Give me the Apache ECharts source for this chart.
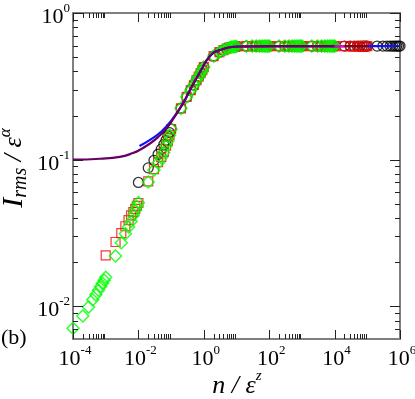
<!DOCTYPE html>
<html>
<head>
<meta charset="utf-8">
<script src="https://cdn.jsdelivr.net/npm/echarts@6/dist/echarts.min.js"></script>
<style>
  html, body { margin: 0; padding: 0; background: #fff; }
  #chart { width: 415px; height: 399px; }
</style>
</head>
<body>
<div id="chart"></div>
<script>
// n of each run: 1..9 x 10^k, then 1e8; x = n / eps^z = n * scale
const nSteps = [
  1, 2, 3, 4, 5, 6, 7, 8, 9,
  10, 20, 30, 40, 50, 60, 70, 80, 90,
  100, 200, 300, 400, 500, 600, 700, 800, 900,
  1e3, 2e3, 3e3, 4e3, 5e3, 6e3, 7e3, 8e3, 9e3,
  1e4, 2e4, 3e4, 4e4, 5e4, 6e4, 7e4, 8e4, 9e4,
  1e5, 2e5, 3e5, 4e5, 5e5, 6e5, 7e5, 8e5, 9e5,
  1e6, 2e6, 3e6, 4e6, 5e6, 6e6, 7e6, 8e6, 9e6,
  1e7, 2e7, 3e7, 4e7, 5e7, 6e7, 7e7, 8e7, 9e7,
  1e8
];
const blackScale = 1e-2;
const redScale = 1e-3;
const greenScale = 1e-4;

const blackY = [
  0.070, 0.088, 0.099, 0.109, 0.118, 0.127, 0.136, 0.145, 0.153,
  0.162, 0.224, 0.268, 0.298, 0.323, 0.349, 0.368, 0.389, 0.408,
  0.428, 0.508, 0.541, 0.559, 0.573, 0.580, 0.586, 0.588, 0.590,
  0.592, 0.594, 0.595, 0.595, 0.595, 0.595, 0.595, 0.595, 0.595,
  0.595, 0.595, 0.595, 0.595, 0.595, 0.595, 0.595, 0.595, 0.595,
  0.595, 0.595, 0.595, 0.595, 0.595, 0.595, 0.595, 0.595, 0.595,
  0.595, 0.595, 0.595, 0.595, 0.595, 0.595, 0.595, 0.595, 0.595,
  0.595, 0.595, 0.595, 0.595, 0.595, 0.595, 0.595, 0.595, 0.595,
  0.595
];
const redY = [
  0.0223, 0.0275, 0.0316, 0.0352, 0.0387, 0.0418, 0.0440, 0.0462, 0.0485,
  0.0507, 0.0712, 0.0862, 0.0962, 0.1042, 0.1132, 0.1245, 0.1345, 0.1475,
  0.162, 0.224, 0.268, 0.298, 0.323, 0.349, 0.368, 0.389, 0.408,
  0.428, 0.508, 0.541, 0.559, 0.573, 0.580, 0.586, 0.588, 0.590,
  0.592, 0.594, 0.595, 0.595, 0.595, 0.595, 0.595, 0.595, 0.595,
  0.595, 0.595, 0.595, 0.595, 0.595, 0.595, 0.595, 0.595, 0.595,
  0.595, 0.595, 0.595, 0.595, 0.595, 0.595, 0.595, 0.595, 0.595,
  0.595, 0.595, 0.595, 0.595, 0.595, 0.595, 0.595, 0.595, 0.595,
  0.595
];
const greenY = [
  0.0071, 0.0086, 0.0099, 0.0111, 0.0120, 0.0129, 0.0137, 0.0144, 0.0151,
  0.0158, 0.0221, 0.0272, 0.0313, 0.0348, 0.0380, 0.0418, 0.0452, 0.0480,
  0.0510, 0.0705, 0.0850, 0.0950, 0.1030, 0.1120, 0.1240, 0.1340, 0.1470,
  0.162, 0.224, 0.268, 0.298, 0.323, 0.349, 0.368, 0.389, 0.408,
  0.428, 0.508, 0.541, 0.559, 0.573, 0.580, 0.586, 0.588, 0.590,
  0.592, 0.594, 0.595, 0.595, 0.595, 0.595, 0.595, 0.595, 0.595,
  0.595, 0.595, 0.595, 0.595, 0.595, 0.595, 0.595, 0.595, 0.595,
  0.595, 0.595, 0.595, 0.595, 0.595, 0.595, 0.595, 0.595, 0.595,
  0.595
];

// fitted curves [x, y]
const purpleCurve = [
  [1e-4, 0.100], [6.7e-4, 0.1015], [2.7e-3, 0.1045], [6.8e-3, 0.111],
  [0.0112, 0.117], [0.0226, 0.129], [0.0398, 0.1426], [0.0733, 0.164],
  [0.1315, 0.198], [0.231, 0.243], [0.378, 0.298], [0.766, 0.396],
  [1.55, 0.509], [3.13, 0.559], [12.8, 0.591], [105, 0.595], [1e4, 0.595]
];
const blueCurve = [
  [0.0108, 0.124], [0.0226, 0.1365], [0.0515, 0.1564], [0.1067, 0.1875],
  [0.231, 0.241], [0.378, 0.298], [0.766, 0.396], [1.55, 0.509],
  [3.13, 0.559], [12.8, 0.591], [105, 0.595], [1e6, 0.595]
];
const darkRedCurve = [[12.8, 0.591], [105, 0.595], [1e5, 0.595]];
const magentaCurve = [[12.8, 0.591], [105, 0.595], [2e4, 0.595]];

const xMajorTicks = [1e-4, 1e-2, 1, 1e2, 1e4, 1e6];
const xMinorTicks = [
  2e-4, 3e-4, 4e-4, 5e-4, 6e-4, 7e-4, 8e-4, 9e-4,
  2e-2, 3e-2, 4e-2, 5e-2, 6e-2, 7e-2, 8e-2, 9e-2,
  2, 3, 4, 5, 6, 7, 8, 9,
  200, 300, 400, 500, 600, 700, 800, 900,
  2e4, 3e4, 4e4, 5e4, 6e4, 7e4, 8e4, 9e4
];
const yMajorTicks = [0.01, 0.1, 1];
const yMinorTicks = [
  0.007, 0.008, 0.009,
  0.02, 0.03, 0.04, 0.05, 0.06, 0.07, 0.08, 0.09,
  0.2, 0.3, 0.4, 0.5, 0.6, 0.7, 0.8, 0.9
];

const X_MIN = 1e-4, X_MAX = 1e6, Y_MIN = 0.006, Y_MAX = 1;
const SERIF = 'Liberation Serif, serif';

function pairs(scale, ys) {
  return nSteps.map((n, i) => [n * scale, ys[i]]);
}

function powLabel(v) {
  const e = Math.round(Math.log10(v));
  return '{b|10}{s|' + e + '}';
}

const labelRich = {
  b: { fontFamily: SERIF, fontSize: 22, color: '#000', lineHeight: 26, verticalAlign: 'bottom' },
  s: { fontFamily: SERIF, fontSize: 13, color: '#000', lineHeight: 12, verticalAlign: 'top' }
};

function snap(v) { return Math.round(v) + 0.5; }

function xTickItem(major) {
  return function (params, api) {
    const v = api.value(0);
    const b = api.coord([v, Y_MIN]);
    const t = api.coord([v, Y_MAX]);
    const len = major ? 9 : 5;
    const x = snap(b[0]);
    const kids = [
      { type: 'line', shape: { x1: x, y1: b[1], x2: x, y2: b[1] - len }, style: { stroke: '#222', lineWidth: 1 } },
      { type: 'line', shape: { x1: x, y1: t[1], x2: x, y2: t[1] + len }, style: { stroke: '#222', lineWidth: 1 } }
    ];
    if (major) {
      kids.push({ type: 'text', x: b[0] + 2, y: b[1] + 5,
        style: { text: powLabel(v), rich: labelRich, align: 'center', verticalAlign: 'top' } });
    }
    return { type: 'group', children: kids };
  };
}

function yTickItem(major) {
  return function (params, api) {
    const v = api.value(1);
    const l = api.coord([X_MIN, v]);
    const r = api.coord([X_MAX, v]);
    const len = major ? 10 : 5;
    const y = snap(l[1]);
    const kids = [
      { type: 'line', shape: { x1: l[0], y1: y, x2: l[0] + len, y2: y }, style: { stroke: '#222', lineWidth: 1 } },
      { type: 'line', shape: { x1: r[0], y1: y, x2: r[0] - len, y2: y }, style: { stroke: '#222', lineWidth: 1 } }
    ];
    if (major) {
      kids.push({ type: 'text', x: l[0] - 3, y: l[1] + 2,
        style: { text: powLabel(v), rich: labelRich, align: 'right', verticalAlign: 'middle' } });
    }
    return { type: 'group', children: kids };
  };
}

const chart = echarts.init(document.getElementById('chart'));

const axisLine = { show: true, lineStyle: { color: '#7f7f7f', width: 2 } };
const hidden = { show: false };

const option = {
  animation: false,
  backgroundColor: '#fff',
  grid: { left: 73, right: 15, top: 13, bottom: 60 },
  xAxis: [
    { type: 'log', min: X_MIN, max: X_MAX, axisLine: axisLine, axisTick: hidden, axisLabel: hidden, splitLine: hidden },
    { type: 'log', position: 'top', min: X_MIN, max: X_MAX, axisLine: axisLine, axisTick: hidden, axisLabel: hidden, splitLine: hidden }
  ],
  yAxis: [
    { type: 'log', min: Y_MIN, max: Y_MAX, axisLine: axisLine, axisTick: hidden, axisLabel: hidden, splitLine: hidden },
    { type: 'log', position: 'right', min: Y_MIN, max: Y_MAX, axisLine: axisLine, axisTick: hidden, axisLabel: hidden, splitLine: hidden }
  ],
  graphic: [
    { type: 'text', left: 1, top: 327,
      style: { text: '(b)', fontFamily: SERIF, fontSize: 22, fill: '#000' } },
    { type: 'text', x: 237, y: 384,
      style: {
        text: '{n|n / ε}{s|z}', align: 'center', verticalAlign: 'middle',
        rich: {
          n: { fontFamily: SERIF, fontStyle: 'italic', fontSize: 26, color: '#000', lineHeight: 30, verticalAlign: 'bottom' },
          s: { fontFamily: SERIF, fontStyle: 'italic', fontSize: 15, color: '#000', lineHeight: 15, verticalAlign: 'top' }
        }
      } },
    { type: 'text', x: 14, y: 168, rotation: Math.PI / 2,
      style: {
        text: '{i|I}{r|rms}{n| / ε}{s|α}', align: 'center', verticalAlign: 'middle',
        rich: {
          i: { fontFamily: SERIF, fontStyle: 'italic', fontSize: 30, color: '#000', lineHeight: 34, verticalAlign: 'middle' },
          r: { fontFamily: SERIF, fontStyle: 'italic', fontSize: 20, color: '#000', lineHeight: 20, verticalAlign: 'bottom' },
          n: { fontFamily: SERIF, fontStyle: 'italic', fontSize: 26, color: '#000', lineHeight: 30, verticalAlign: 'middle' },
          s: { fontFamily: SERIF, fontStyle: 'italic', fontSize: 17, color: '#000', lineHeight: 17, verticalAlign: 'top' }
        }
      } }
  ],
  series: [
    { type: 'scatter', name: 'black', data: pairs(blackScale, blackY), symbol: 'circle', symbolSize: 10,
      itemStyle: { color: 'transparent', borderColor: '#000', borderWidth: 1.3 }, silent: true },
    { type: 'scatter', name: 'red', data: pairs(redScale, redY), symbol: 'rect', symbolSize: 9,
      itemStyle: { color: 'transparent', borderColor: '#ff0000', borderWidth: 1.2 }, silent: true },
    { type: 'scatter', name: 'green', data: pairs(greenScale, greenY), symbol: 'diamond', symbolSize: [12, 12],
      itemStyle: { color: 'transparent', borderColor: '#00ff00', borderWidth: 1.5 }, silent: true },
    { type: 'line', data: blueCurve, showSymbol: false, smooth: 0.5, silent: true,
      lineStyle: { color: '#1010ff', width: 2.2 } },
    { type: 'line', data: darkRedCurve, showSymbol: false, silent: true,
      lineStyle: { color: '#8b0000', width: 2.2 } },
    { type: 'line', data: magentaCurve, showSymbol: false, silent: true,
      lineStyle: { color: '#e000e0', width: 2.2 } },
    { type: 'line', data: purpleCurve, showSymbol: false, smooth: 0.5, silent: true,
      lineStyle: { color: '#660066', width: 2.2 } },
    { type: 'custom', data: xMajorTicks.map(v => [v, Y_MIN]), renderItem: xTickItem(true), silent: true, z: 5 },
    { type: 'custom', data: xMinorTicks.map(v => [v, Y_MIN]), renderItem: xTickItem(false), silent: true, z: 5 },
    { type: 'custom', data: yMajorTicks.map(v => [X_MIN, v]), renderItem: yTickItem(true), silent: true, z: 5 },
    { type: 'custom', data: yMinorTicks.map(v => [X_MIN, v]), renderItem: yTickItem(false), silent: true, z: 5 }
  ]
};

chart.setOption(option);
</script>
</body>
</html>
